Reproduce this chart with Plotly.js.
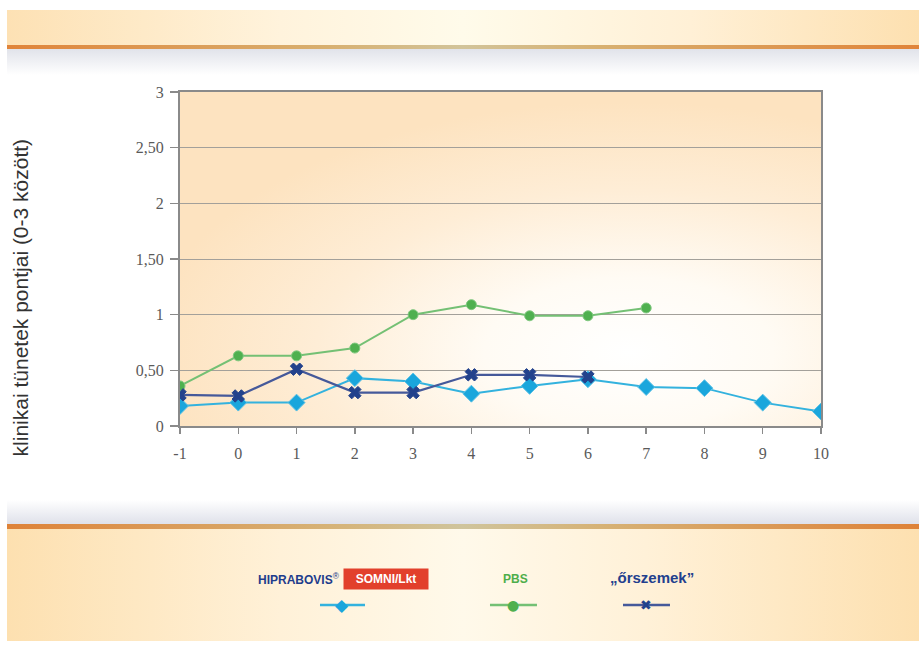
<!DOCTYPE html>
<html>
<head>
<meta charset="utf-8">
<script src="https://cdn.plot.ly/plotly-3.0.1.min.js"></script>
<style>
  html, body { margin: 0; padding: 0; background: #ffffff; }
  #wrap { position: relative; width: 919px; height: 646px; overflow: hidden; }
  .band { position: absolute; left: 7px; width: 912px; }
  #topBand { top: 10px; height: 36px; background: linear-gradient(to right, #fde1b4, #fff3dc 30%, #fffbea 50%, #fff0d6 75%, #fde0b0); }
  #topLine { top: 45px; height: 4px; background: linear-gradient(to right, #e0843a, #d8b070 35%, #d2c49a 50%, #d8b070 65%, #e0843a); }
  #topShade { top: 49px; height: 26px; background: linear-gradient(to bottom, #e1e3ea, #ffffff); }
  #botShade { top: 500px; height: 24px; background: linear-gradient(to bottom, #ffffff, #dfe1ea); }
  #botLine { top: 524px; height: 5px; background: linear-gradient(to right, #de8238, #d6b276 35%, #cfc49c 50%, #d6b276 65%, #de8238); }
  #botBand { top: 529px; height: 112px; background: linear-gradient(to right, #fde0b0, #fff1d8 30%, #fff9ea 50%, #fff1d8 70%, #fde0b0); }
  #chart { position: absolute; left: 0; top: 0; width: 919px; height: 646px; }
</style>
</head>
<body>
<div id="wrap">
  <div class="band" id="topBand"></div>
  <div class="band" id="topLine"></div>
  <div class="band" id="topShade"></div>
  <div class="band" id="botShade"></div>
  <div class="band" id="botLine"></div>
  <div class="band" id="botBand"></div>
  <div id="chart"></div>
</div>
<script>
// Days relative to challenge
const days = [-1, 0, 1, 2, 3, 4, 5, 6, 7, 8, 9, 10];

// Mean clinical score per group
const hipraDays = [-1, 0, 1, 2, 3, 4, 5, 6, 7, 8, 9, 10];
const hipraVals = [0.18, 0.21, 0.21, 0.43, 0.40, 0.29, 0.36, 0.42, 0.35, 0.34, 0.21, 0.13];

const pbsDays = [-1, 0, 1, 2, 3, 4, 5, 6, 7];
const pbsVals = [0.36, 0.63, 0.63, 0.70, 1.00, 1.09, 0.99, 0.99, 1.06];

const sentinelDays = [-1, 0, 1, 2, 3, 4, 5, 6];
const sentinelVals = [0.28, 0.27, 0.51, 0.30, 0.30, 0.46, 0.46, 0.44];

// Y axis ticks (Hungarian decimal comma)
const yTickVals = [0, 0.5, 1, 1.5, 2, 2.5, 3];
const yTickText = ['0', '0,50', '1', '1,50', '2', '2,50', '3'];

const yTitle = 'klinikai tünetek pontjai (0-3 között)';

// Group colours
const hipraLine = '#33b2de', hipraMark = '#1aa6dc';
const pbsLine = '#74c074', pbsMark = '#4fb04f';
const sentLine = '#45599a', sentMark = '#23428c';

// Soft peach plot background with a white glow towards the lower right
const bgSvg =
  '<svg xmlns="http://www.w3.org/2000/svg" width="641" height="334" preserveAspectRatio="none">' +
  '<defs><radialGradient id="g" cx="0.7" cy="0.78" r="0.75">' +
  '<stop offset="0" stop-color="#ffffff"/>' +
  '<stop offset="0.3" stop-color="#fffbf4"/>' +
  '<stop offset="0.65" stop-color="#feedd6"/>' +
  '<stop offset="1" stop-color="#fde3c0"/>' +
  '</radialGradient></defs>' +
  '<rect width="641" height="334" fill="url(#g)"/></svg>';
const bgUri = 'data:image/svg+xml;base64,' + btoa(bgSvg);

const traces = [
  {
    x: hipraDays, y: hipraVals, type: 'scatter', mode: 'lines+markers',
    name: 'HIPRABOVIS SOMNI/Lkt',
    line: { color: hipraLine, width: 2 },
    marker: { symbol: 'diamond', size: 13, color: hipraMark, line: { color: '#5cc2e6', width: 1 } }
  },
  {
    x: pbsDays, y: pbsVals, type: 'scatter', mode: 'lines+markers',
    name: 'PBS',
    line: { color: pbsLine, width: 2 },
    marker: { symbol: 'circle', size: 10, color: pbsMark, line: { color: '#80c880', width: 1 } }
  },
  {
    x: sentinelDays, y: sentinelVals, type: 'scatter', mode: 'lines+markers',
    name: '„őrszemek”',
    line: { color: sentLine, width: 2.2 },
    marker: { symbol: 'x', size: 11, color: sentMark, line: { color: sentMark, width: 1 } }
  }
];

// Key below the chart: label on top, line sample with marker underneath
const keyY = -0.536;
const keyItems = [
  { x0: 0.2184, x1: 0.2886, xc: 0.2527, color: hipraLine, glyph: '◆', gcolor: hipraMark, gsize: 17 },
  { x0: 0.4836, x1: 0.5569, xc: 0.5195, color: pbsLine, glyph: '●', gcolor: pbsMark, gsize: 14 },
  { x0: 0.6911, x1: 0.7644, xc: 0.7270, color: sentLine, glyph: '✖', gcolor: sentMark, gsize: 14 }
];

const keyShapes = keyItems.map(k => ({
  type: 'line', xref: 'paper', yref: 'paper', x0: k.x0, x1: k.x1, y0: keyY, y1: keyY,
  line: { color: k.color, width: 2.5 }
}));
const keyGlyphs = keyItems.map(k => ({
  text: k.glyph, xref: 'paper', yref: 'paper', x: k.xc, y: keyY,
  showarrow: false, xanchor: 'center', yanchor: 'middle',
  font: { family: 'DejaVu Sans, sans-serif', size: k.gsize, color: k.gcolor }
}));

const tickFont = { family: 'Liberation Serif, serif', size: 16, color: '#5a5a5a' };

const layout = {
  width: 919, height: 646,
  margin: { l: 180, r: 98, t: 92, b: 220 },
  paper_bgcolor: 'rgba(0,0,0,0)',
  plot_bgcolor: 'rgba(0,0,0,0)',
  showlegend: false,
  xaxis: {
    range: [-1, 10], tickvals: days, ticktext: days.map(String),
    showgrid: false, zeroline: false,
    showline: true, linecolor: '#8a8a8a', linewidth: 2, mirror: true,
    ticks: 'outside', ticklen: 6, tickwidth: 1.5, tickcolor: '#8a8a8a',
    ticklabelstandoff: 6,
    tickfont: tickFont
  },
  yaxis: {
    range: [0, 3], tickvals: yTickVals, ticktext: yTickText,
    showgrid: true, gridcolor: '#a3a09a', gridwidth: 1, zeroline: false,
    showline: true, linecolor: '#8a8a8a', linewidth: 2, mirror: true,
    ticks: 'outside', ticklen: 8, tickwidth: 1.5, tickcolor: '#8a8a8a',
    ticklabelstandoff: 3,
    tickfont: tickFont
  },
  images: [{
    source: bgUri, xref: 'paper', yref: 'paper', x: 0, y: 1,
    sizex: 1, sizey: 1, xanchor: 'left', yanchor: 'top',
    sizing: 'stretch', layer: 'below'
  }],
  shapes: keyShapes,
  annotations: [
    {
      text: yTitle, xref: 'paper', yref: 'paper', x: -0.2496, y: 0.385,
      textangle: -90, showarrow: false, xanchor: 'center', yanchor: 'middle',
      font: { family: 'Liberation Sans, Arial, sans-serif', size: 21, color: '#333333' }
    },
    {
      text: '<b>HIPRABOVIS</b><sup>®</sup>', xref: 'paper', yref: 'paper', x: 0.253, y: -0.458,
      showarrow: false, xanchor: 'right', yanchor: 'middle',
      font: { family: 'Liberation Sans Narrow, Liberation Sans, sans-serif', size: 12, color: '#1e3c8c' }
    },
    {
      text: '<b>SOMNI/Lkt</b>', xref: 'paper', yref: 'paper', x: 0.3206, y: -0.458,
      showarrow: false, xanchor: 'center', yanchor: 'middle',
      width: 80, height: 16, borderpad: 2, bgcolor: '#e2402c',
      font: { family: 'Liberation Sans, sans-serif', size: 12, color: '#ffffff' }
    },
    {
      text: '<b>PBS</b>', xref: 'paper', yref: 'paper', x: 0.524, y: -0.458,
      showarrow: false, xanchor: 'center', yanchor: 'middle',
      font: { family: 'Liberation Sans, sans-serif', size: 12, color: '#4eae4a' }
    },
    {
      text: '<b>„őrszemek”</b>', xref: 'paper', yref: 'paper', x: 0.736, y: -0.455,
      showarrow: false, xanchor: 'center', yanchor: 'middle',
      font: { family: 'Liberation Sans, sans-serif', size: 15, color: '#22408e' }
    }
  ].concat(keyGlyphs)
};

Plotly.newPlot('chart', traces, layout, { displayModeBar: false, staticPlot: true });
</script>
</body>
</html>
